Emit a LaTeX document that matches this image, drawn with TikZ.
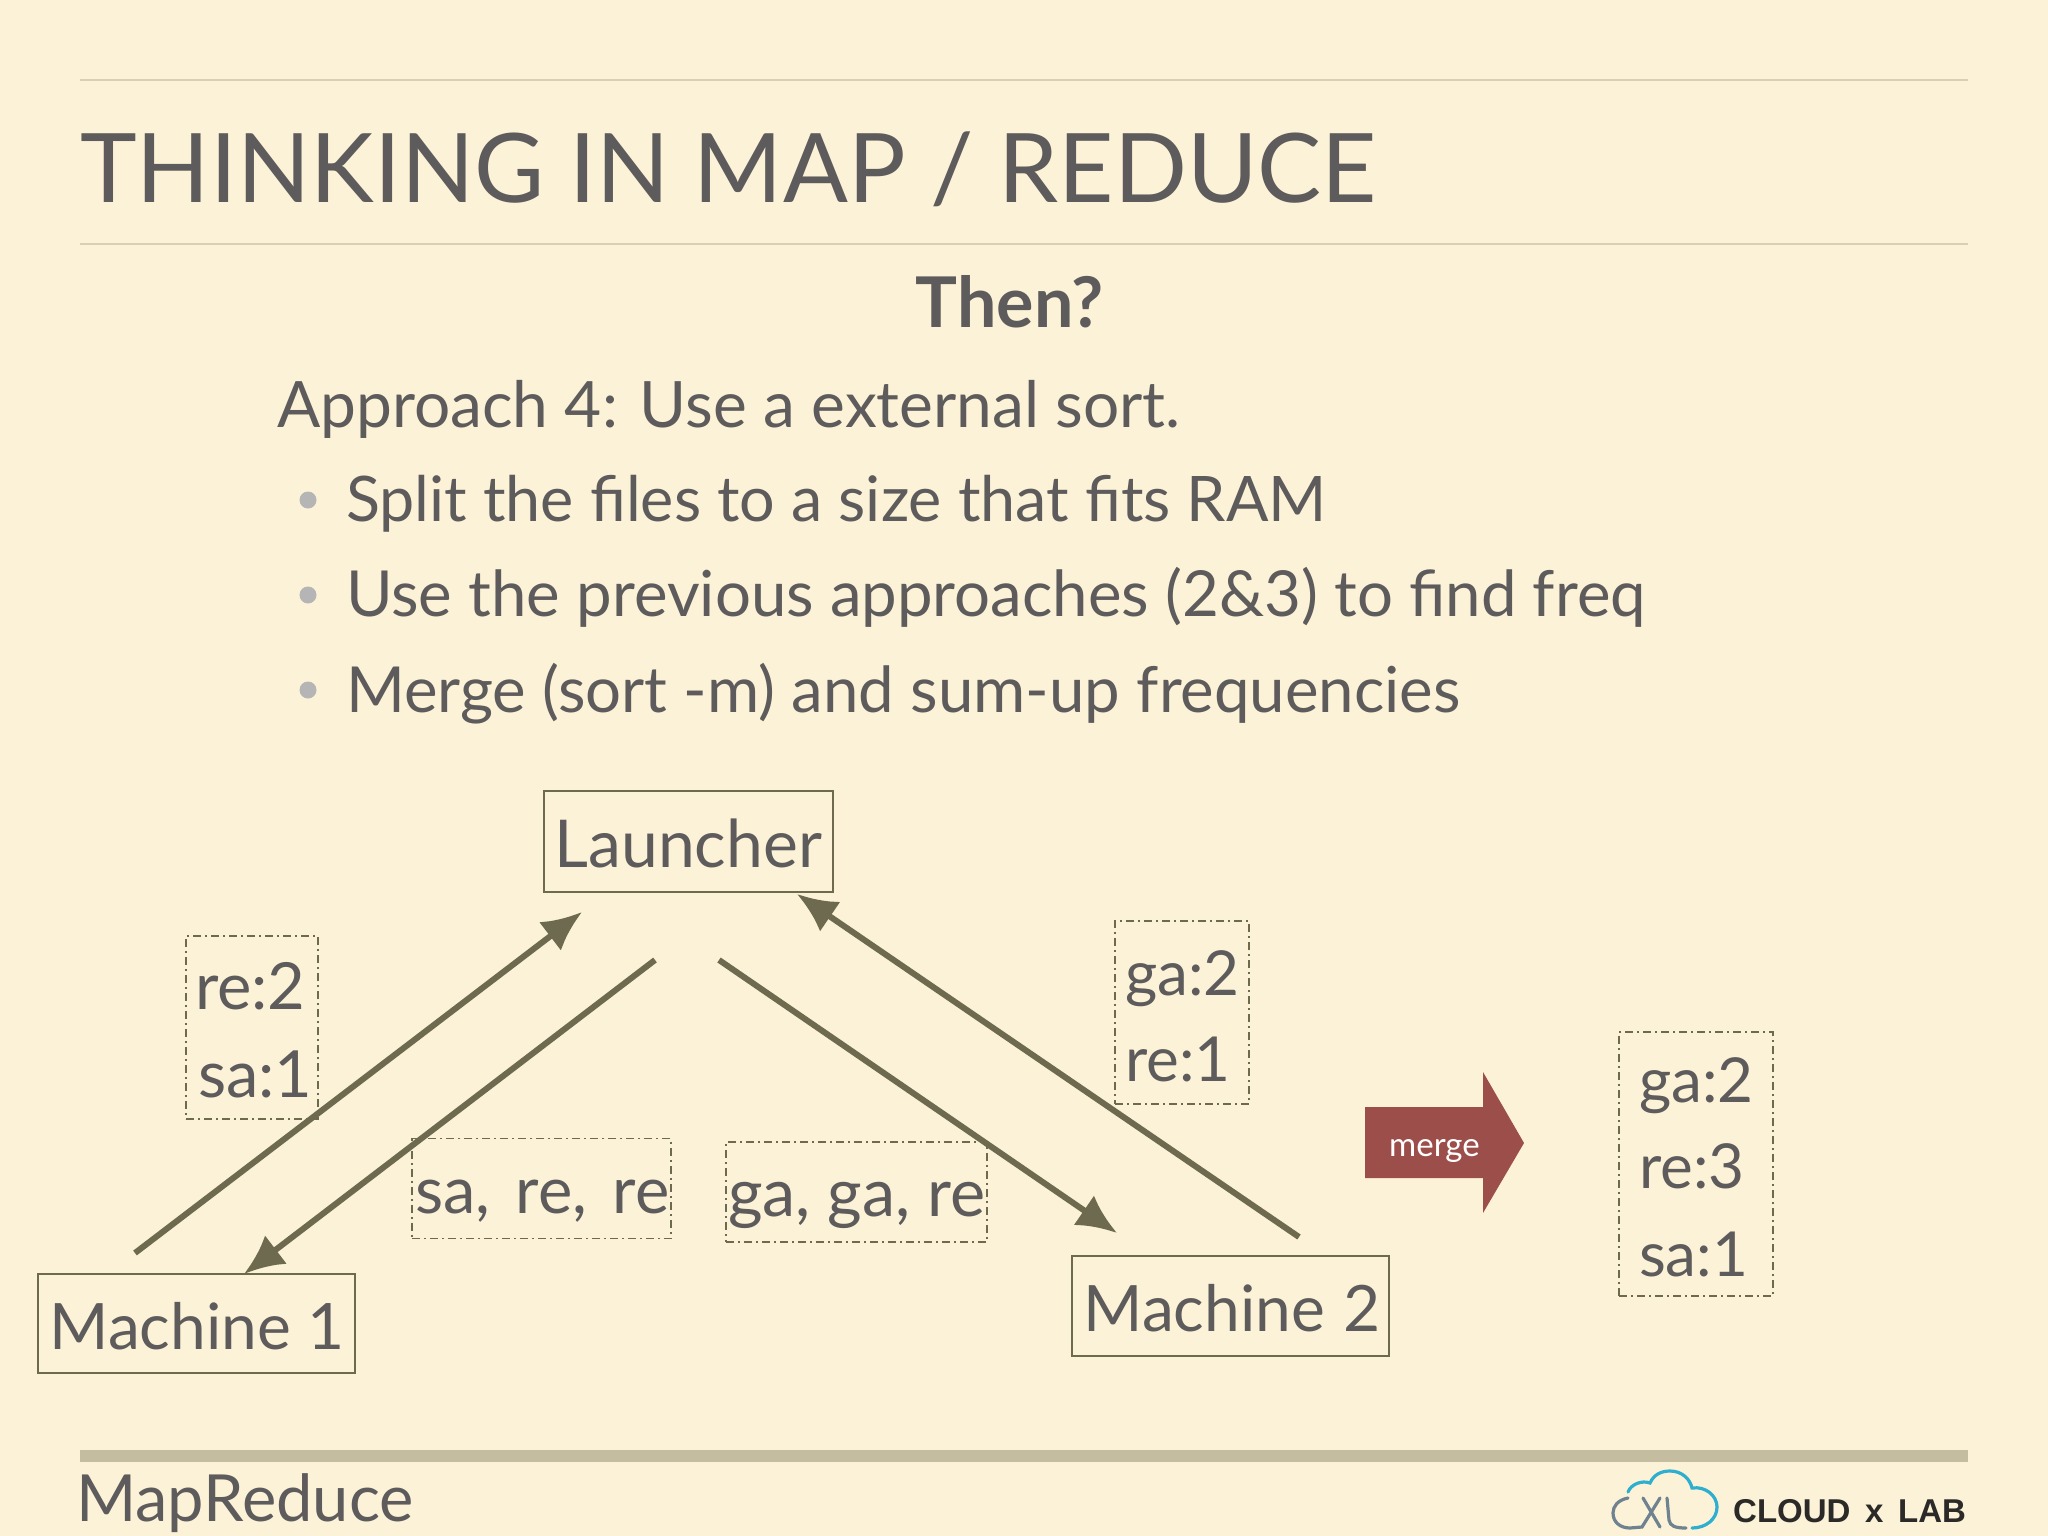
\documentclass[tikz,border=0pt]{standalone}
\usepackage{fontspec}
\setmainfont{Lato}
\newfontfamily\logofont{Liberation Sans}
\usetikzlibrary{arrows.meta}
\definecolor{bgc}{HTML}{FCF2D7}
\definecolor{txtc}{HTML}{5D5B5B}
\definecolor{arrc}{HTML}{6E6A50}
\definecolor{rulec}{HTML}{D9D0B4}
\definecolor{footc}{HTML}{C5BDA0}
\definecolor{bulc}{HTML}{B5B5B5}
\definecolor{mergec}{HTML}{9C4F4A}
\definecolor{cloudb}{HTML}{2FAFCF}
\definecolor{cloudg}{HTML}{6F8290}
\definecolor{logot}{HTML}{2B2A28}
\newcommand{\fs}[1]{\fontsize{#1}{#1}\selectfont}
% framed body: width, height, lines placed with \tl{vertical step}{left pad}{text}
\newcommand{\fb}[3]{\hbox to #1pt{\vbox to #2pt{\offinterlineskip\hsize=#1pt #3\vss}\hss}}
\newcommand{\tl}[3]{\vskip#1pt\hbox{\hskip#2pt\smash{#3}}}
\tikzset{
  x=1pt,y=-1pt,
  txt/.style={anchor=base west,inner sep=0pt,text=txtc,font=\fs{63.5}},
  solidbox/.style={draw=arrc,line width=2pt,inner sep=0pt,text=txtc,font=\fs{64}},
  dashbox/.style={draw=arrc,line width=1.6pt,inner sep=0pt,text=txtc,font=\fs{65},dash pattern=on 8pt off 4pt on 2pt off 4pt},
  flow/.style={draw=arrc,line width=6pt,-{Latex[length=40pt,width=36pt]}},
  rulel/.style={draw=rulec,line width=1.6pt},
  bul/.style={circle,fill=bulc,inner sep=0pt,minimum size=17pt}
}
\begin{document}
\begin{tikzpicture}
\useasboundingbox (0,0) rectangle (2048,1536);
\fill[bgc] (0,0) rectangle (2048,1536);
\coordinate (r1a) at (80,80); \coordinate (r1b) at (1968,80);
\coordinate (r2a) at (80,244); \coordinate (r2b) at (1968,244);
\draw[rulel] (r1a) -- (r1b);
\draw[rulel] (r2a) -- (r2b);
\node[txt,font=\fs{96}] (title) at (80,202) {THINKING IN MAP / REDUCE};
\node[txt,anchor=base,font=\fs{70}\bfseries] (then) at (1010,327) {Then?};
\node[txt,font=\fs{64}] (appr) at (277,427) {Approach 4: Use a external sort.};
\node[bul] (b1) at (308,500) {};
\node[bul] (b2) at (308,595) {};
\node[bul] (b3) at (308,690) {};
\node[txt,font=\fs{62.8}] (l1) at (346,521) {Split the files to a size that fits RAM};
\node[txt] (l2) at (346,616) {Use the previous approaches (2\&3) to find freq};
\node[txt] (l3) at (346,712) {Merge (sort -m) and sum-up frequencies};

\coordinate (a1s) at (135,1253); \coordinate (a1e) at (582,912);
\coordinate (a2s) at (655,960);  \coordinate (a2e) at (244,1274);
\coordinate (a3s) at (719,960);  \coordinate (a3e) at (1117,1233);
\coordinate (a4s) at (1299,1237);\coordinate (a4e) at (797,894);
\draw[flow] (a1s) -- (a1e);
\draw[flow] (a2s) -- (a2e);
\draw[flow] (a3s) -- (a3e);
\draw[flow] (a4s) -- (a4e);

\node[solidbox,font=\fs{66}] (launcher) at (688,841.5) {\fb{289}{101}{\tl{76}{11}{Launcher}}};
\node[solidbox] (m1) at (196,1323.5) {\fb{317}{99}{\tl{75}{12}{Machine 1}}};
\node[solidbox] (m2) at (1230,1306) {\fb{317}{100}{\tl{75}{12}{Machine\hspace{2pt} 2}}};
\node[dashbox] (d1) at (252,1027.5) {\fb{132}{183}{\tl{73}{9}{re:2}\tl{88}{12}{sa:1}}};
\node[dashbox] (d2) at (541.5,1188.5) {\fb{259}{100}{\tl{75}{3}{sa,\hspace{9pt} re,\hspace{9pt} re}}};
\node[dashbox,font=\fs{66.5}] (d3) at (856.5,1192) {\fb{261}{100}{\tl{74}{2}{ga, ga, re}}};
\node[dashbox,font=\fs{62}] (d4) at (1182,1012.5) {\fb{134}{183}{\tl{74}{10}{ga:2}\tl{86}{10}{re:1}}};
\node[dashbox,font=\fs{62}] (d5) at (1696,1164) {\fb{154}{264}{\tl{70}{20}{ga:2}\tl{86}{20}{re:3}\tl{88}{20}{sa:1}}};

\fill[mergec] (1365,1107) -- (1483,1107) -- (1483,1072) -- (1524,1143) -- (1483,1213) -- (1483,1178) -- (1365,1178) -- cycle;
\node[txt,text=white,font=\fs{33}] (merge) at (1389,1156) {merge};

\fill[footc] (80,1450) rectangle (1968,1462);
\node[txt,font=\fs{65}] (foot) at (76,1521) {MapReduce};

\draw[cloudb,line width=3.2pt,line cap=round] (1628,1492) .. controls (1631,1484) and (1642,1480) .. (1650,1483)
  .. controls (1654,1474) and (1662,1471) .. (1670,1471)
  .. controls (1682,1471) and (1690,1479) .. (1692,1488)
  .. controls (1706,1486) and (1717,1496) .. (1717,1507)
  .. controls (1717,1519) and (1706,1528) .. (1692,1528);
\draw[cloudg,line width=3.2pt,line cap=round] (1628,1498) .. controls (1618,1500) and (1613,1506) .. (1613,1513)
  .. controls (1613,1522) and (1620,1528) .. (1630,1528) -- (1642,1527) -- (1660,1498);
\draw[cloudg,line width=3.2pt,line cap=round] (1643,1498) -- (1660,1527);
\draw[cloudg,line width=3.2pt,line cap=round] (1667,1498) -- (1669,1520) .. controls (1670,1526) and (1675,1528) .. (1686,1528);
\node[txt,text=logot,font=\logofont\fs{33}\bfseries] (logo) at (1733,1522) {CLOUD \,x\, LAB};
\end{tikzpicture}
\end{document}
